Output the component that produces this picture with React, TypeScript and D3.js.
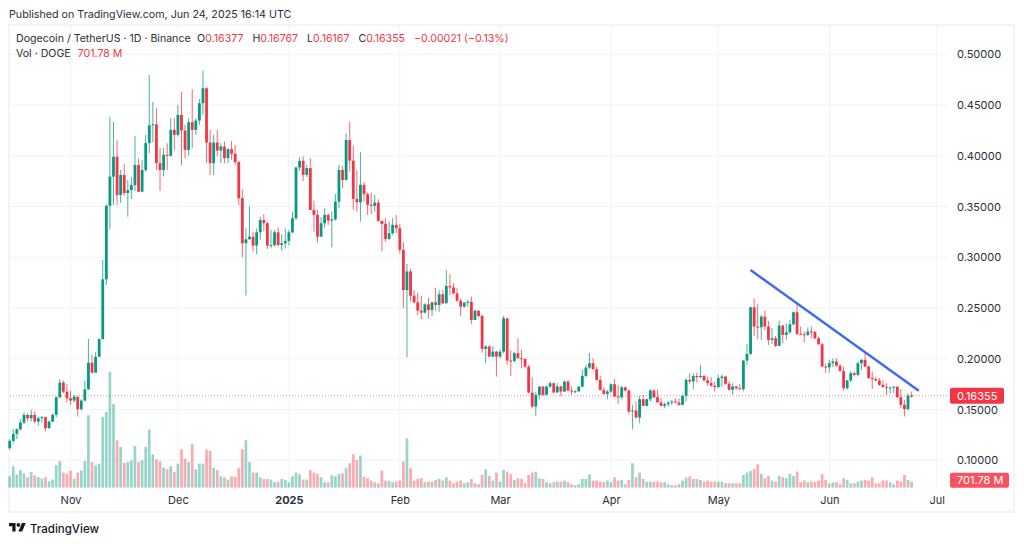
import { useEffect, useRef } from 'react';
import * as d3 from 'd3';

const WIDTH = 1024;
const HEIGHT = 544;

const startDate = Date.UTC(2024, 9, 15);
const firstOpen = 0.1119;

// one value per daily candle, Oct 15 2024 to Jun 24 2025
const closes = [
  .1191,.1260,.1306,.1371,.1447,.1414,.1447,.1381,.1414,.1424,
  .1316,.1381,.1447,.1621,.1765,.1676,.1611,.1588,.1627,.1503,
  .1588,.1699,.1961,.1863,.2020,.2194,.2782,.3507,.3794,.3990,
  .3613,.3810,.3633,.3662,.3711,.3908,.3645,.3860,.4125,.4300,
  .4310,.3928,.3859,.4009,.4000,.4255,.4206,.4402,.4248,.4058,
  .4330,.4255,.4347,.4517,.4665,.4130,.3927,.4130,.4051,.4091,
  .3976,.4065,.4019,.3937,.3581,.3138,.3177,.3203,.3115,.3246,
  .3367,.3335,.3115,.3120,.3246,.3121,.3138,.3161,.3246,.3384,
  .3884,.3950,.3812,.3878,.3466,.3417,.3203,.3335,.3417,.3361,
  .3374,.3548,.3860,.3762,.4155,.3952,.3575,.3542,.3713,.3621,
  .3516,.3506,.3539,.3358,.3329,.3181,.3237,.3319,.3286,.3073,
  .2677,.2860,.2621,.2556,.2474,.2454,.2536,.2480,.2556,.2530,
  .2635,.2546,.2717,.2703,.2644,.2572,.2513,.2553,.2560,.2382,
  .2474,.2421,.2097,.2120,.2021,.2070,.2021,.2070,.2398,.1982,
  .1978,.2054,.2005,.1998,.1923,.1667,.1529,.1644,.1726,.1644,
  .1726,.1759,.1667,.1727,.1677,.1775,.1687,.1677,.1680,.1726,
  .1831,.1913,.1956,.1897,.1792,.1693,.1654,.1677,.1749,.1628,
  .1621,.1719,.1687,.1480,.1490,.1421,.1601,.1536,.1601,.1687,
  .1621,.1570,.1536,.1552,.1568,.1578,.1569,.1546,.1635,.1792,
  .1776,.1831,.1819,.1831,.1786,.1760,.1733,.1720,.1809,.1825,
  .1753,.1694,.1727,.1710,.1700,.1982,.2048,.2507,.2317,.2310,
  .2415,.2317,.2186,.2202,.2127,.2327,.2235,.2261,.2340,.2458,
  .2245,.2240,.2235,.2268,.2265,.2202,.2143,.1923,.1915,.1957,
  .1973,.1930,.1880,.1710,.1786,.1858,.1841,.1956,.1989,.1923,
  .1809,.1800,.1786,.1743,.1720,.1710,.1717,.1725,.1622,.1546,
  .1504,.16377,.16355,
];

const highs = [
  .1207,.1306,.1316,.1404,.1473,.1463,.1496,.1480,.1430,.1437,
  .1430,.1391,.1463,.1627,.1801,.1785,.1752,.1686,.1644,.1611,
  .1601,.1785,.2194,.2037,.2067,.2200,.2973,.3520,.4384,.4335,
  .4155,.3860,.3918,.3760,.3790,.4194,.3975,.3960,.4204,.4795,
  .4529,.4467,.4076,.4076,.4124,.4370,.4370,.4501,.4632,.4304,
  .4370,.4655,.4370,.4557,.4839,.4675,.4255,.4206,.4255,.4124,
  .4140,.4075,.4147,.4107,.3947,.3669,.3285,.3499,.3253,.3285,
  .3400,.3423,.3351,.3270,.3270,.3295,.3226,.3285,.3270,.3449,
  .3894,.3986,.3992,.3910,.3976,.3558,.3466,.3394,.3480,.3433,
  .3449,.3623,.3910,.3900,.4221,.4336,.4100,.3860,.4034,.3739,
  .3637,.3637,.3614,.3572,.3362,.3385,.3352,.3385,.3417,.3329,
  .3148,.2935,.2886,.2677,.2651,.2618,.2546,.2602,.2562,.2700,
  .2677,.2677,.2874,.2831,.2743,.2694,.2595,.2556,.2579,.2612,
  .2487,.2474,.2438,.2136,.2136,.2126,.2077,.2093,.2421,.2398,
  .2087,.2070,.2202,.2087,.2005,.1939,.1818,.1677,.1732,.1732,
  .1736,.1775,.1765,.1759,.1736,.1785,.1792,.1726,.1690,.1726,
  .1890,.1939,.2054,.2005,.1923,.1831,.1719,.1693,.1759,.1801,
  .1742,.1732,.1726,.1700,.1546,.1578,.1634,.1644,.1611,.1700,
  .1700,.1700,.1611,.1568,.1585,.1595,.1611,.1611,.1645,.1809,
  .1858,.1858,.1864,.1940,.1841,.1825,.1818,.1776,.1841,.1841,
  .1825,.1776,.1759,.1733,.1753,.1989,.2146,.2514,.2596,.2537,
  .2432,.2474,.2373,.2301,.2225,.2376,.2333,.2350,.2383,.2465,
  .2540,.2317,.2268,.2310,.2317,.2274,.2219,.2160,.1950,.1990,
  .2003,.2005,.1950,.1924,.1792,.1881,.1874,.1973,.1996,.2061,
  .1937,.1874,.1818,.1809,.1786,.1760,.1727,.1727,.1727,.1700,
  .1595,.1660,.16767,
];

const lows = [
  .1102,.1168,.1207,.1293,.1358,.1381,.1381,.1365,.1339,.1371,
  .1286,.1309,.1375,.1424,.1611,.1660,.1568,.1545,.1568,.1430,
  .1490,.1578,.1693,.1857,.1916,.2018,.2188,.2726,.3276,.3514,
  .3514,.3534,.3604,.3399,.3575,.3650,.3640,.3690,.3840,.4024,
  .4130,.3859,.3652,.3796,.3861,.3992,.4058,.4189,.3909,.3976,
  .3999,.4074,.4206,.4304,.4402,.3927,.3812,.3810,.3992,.3927,
  .3927,.3927,.3960,.3910,.3515,.2999,.2623,.3171,.3056,.3030,
  .3170,.3259,.3082,.3089,.3105,.3105,.3066,.3089,.3115,.3236,
  .3367,.3850,.3751,.3790,.3466,.3253,.3144,.3203,.3292,.3318,
  .3098,.3361,.3482,.3680,.3755,.3844,.3467,.3450,.3352,.3549,
  .3417,.3427,.3450,.3351,.3057,.3155,.3171,.3221,.3237,.3040,
  .2497,.2015,.2562,.2546,.2430,.2389,.2447,.2398,.2421,.2474,
  .2464,.2539,.2605,.2628,.2638,.2562,.2421,.2503,.2513,.2343,
  .2382,.2408,.2060,.1956,.2015,.2015,.1824,.2005,.2054,.1939,
  .1831,.1962,.2005,.1906,.1906,.1660,.1513,.1437,.1601,.1630,
  .1640,.1710,.1667,.1670,.1628,.1670,.1677,.1644,.1660,.1670,
  .1716,.1818,.1900,.1890,.1785,.1687,.1644,.1601,.1660,.1621,
  .1555,.1601,.1677,.1457,.1306,.1414,.1365,.1529,.1529,.1578,
  .1611,.1568,.1529,.1513,.1529,.1545,.1562,.1536,.1546,.1579,
  .1753,.1700,.1766,.1809,.1776,.1733,.1726,.1677,.1713,.1727,
  .1743,.1687,.1645,.1694,.1690,.1680,.1940,.2040,.2225,.2192,
  .2186,.2284,.2137,.2146,.2114,.2137,.2153,.2186,.2245,.2327,
  .2235,.2235,.2160,.2225,.2202,.2192,.2137,.1917,.1858,.1864,
  .1917,.1923,.1874,.1687,.1694,.1769,.1832,.1825,.1891,.1917,
  .1802,.1700,.1776,.1733,.1717,.1645,.1655,.1661,.1612,.1513,
  .1431,.1490,.16167,
];

// DOGE volume, millions
const volumes = [
  1360,2560,1560,2080,1680,1240,1880,1480,1240,1080,
  1240,760,960,2680,3200,1800,1680,2000,1040,1800,
  2080,3200,8680,3080,2680,2880,8480,9080,13880,10040,
  5680,4880,2960,3080,3280,5000,3080,3280,4880,6960,
  4000,3400,3160,2400,2200,2560,1880,2880,4600,3480,
  3080,5200,2200,2880,2880,4560,4400,2400,2080,1360,
  1240,960,1360,1280,2360,4600,5680,3080,1800,1800,
  1240,1040,1040,960,640,720,1040,920,640,1360,
  1800,1600,960,960,2080,1800,1640,1240,640,640,
  1480,1360,1640,1720,2320,2920,4000,3320,3840,1320,
  1120,840,640,520,2040,840,840,640,720,840,
  3120,5920,2320,840,1040,1120,640,720,720,920,
  1040,840,1240,840,520,720,840,520,640,1040,
  520,400,1520,2200,1400,840,1800,720,2120,1920,
  1600,920,1120,1040,520,1520,1800,1920,1120,1040,
  640,520,640,720,720,840,640,400,280,400,
  1040,1040,1600,840,840,720,640,840,640,1240,
  840,920,400,920,2920,1240,1800,1040,720,720,
  720,720,640,640,400,280,280,400,840,1200,
  1360,1040,1040,920,720,840,720,720,720,720,
  520,520,520,520,520,1520,1800,2000,2240,2800,
  1640,1120,1400,840,720,1400,1240,1120,1640,1400,
  1920,640,840,640,720,640,840,1600,920,520,
  640,640,400,1120,920,520,520,720,840,920,
  840,1240,520,520,840,840,640,400,840,720,
  1520,920,701.78,
];

const priceTicks = [0.1, 0.15, 0.2, 0.25, 0.3, 0.35, 0.4, 0.45, 0.5];
const timeTicks = [
  Date.UTC(2024, 10, 1), Date.UTC(2024, 11, 1), Date.UTC(2025, 0, 1), Date.UTC(2025, 1, 1),
  Date.UTC(2025, 2, 1), Date.UTC(2025, 3, 1), Date.UTC(2025, 4, 1), Date.UTC(2025, 5, 1), Date.UTC(2025, 6, 1),
];
const timeLabels = ['Nov', 'Dec', '2025', 'Feb', 'Mar', 'Apr', 'May', 'Jun', 'Jul'];

// hand drawn trendline
const trendDates = [Date.UTC(2025, 4, 10), Date.UTC(2025, 5, 26)];
const trendPrices = [0.2874, 0.1685];

const lastPrice = 0.16355;
const DAY = 86400000;
const FONT = 'Inter, "Noto Sans", sans-serif';
const GREEN = '#089981';
const RED = '#f23645';
const GRID = '#f2f3f5';
const TEXT = '#2a2e39';

const App = () => {
  const svgRef = useRef(null);

  useEffect(() => {
    const svg = d3.select(svgRef.current);
    svg.selectAll('*').remove();
    svg.attr('font-family', FONT);

    const x = d3.scaleUtc()
      .domain([startDate, startDate + 252 * DAY])
      .range([9.7, 911.6]);
    const y = d3.scaleLinear().domain([0.1, 0.5]).range([460.25, 54.25]);
    const yVol = d3.scaleLinear().domain([0, 13880]).range([487.6, 371.9]);

    const opens = closes.map((c, i) => (i === 0 ? firstOpen : closes[i - 1]));
    const dates = closes.map((c, i) => startDate + i * DAY);
    const up = (i: number) => closes[i] >= opens[i];

    // frame
    svg.append('rect').attr('x', 0).attr('y', 0).attr('width', WIDTH).attr('height', HEIGHT).attr('fill', '#fff');
    svg.append('rect').attr('x', 9).attr('y', 25).attr('width', 1005).attr('height', 487)
      .attr('fill', 'none').attr('stroke', '#f3f4f6').attr('stroke-width', 2);

    // grid
    svg.append('g').selectAll('line').data(priceTicks).enter().append('line')
      .attr('x1', 10).attr('x2', 948)
      .attr('y1', d => y(d)).attr('y2', d => y(d))
      .attr('stroke', GRID);
    svg.append('g').selectAll('line').data(timeTicks).enter().append('line')
      .attr('x1', d => x(d)).attr('x2', d => x(d))
      .attr('y1', 26).attr('y2', 488)
      .attr('stroke', GRID);

    // volume
    svg.append('g').selectAll('rect').data(volumes).enter().append('rect')
      .attr('x', (d, i) => x(dates[i]) - 1.35)
      .attr('width', 2.7)
      .attr('y', d => yVol(d))
      .attr('height', d => yVol(0) - yVol(d))
      .attr('fill', (d, i) => (up(i) ? GREEN : RED))
      .attr('fill-opacity', 0.42);

    // last price line
    svg.append('line')
      .attr('x1', 10).attr('x2', 948)
      .attr('y1', y(lastPrice)).attr('y2', y(lastPrice))
      .attr('stroke', RED).attr('stroke-opacity', 0.6).attr('stroke-dasharray', '1 2');

    // candles
    const candles = svg.append('g');
    candles.selectAll('line').data(closes).enter().append('line')
      .attr('x1', (d, i) => x(dates[i])).attr('x2', (d, i) => x(dates[i]))
      .attr('y1', (d, i) => y(highs[i])).attr('y2', (d, i) => y(lows[i]))
      .attr('stroke', (d, i) => (up(i) ? GREEN : RED))
      .attr('stroke-opacity', 0.75)
      .attr('stroke-width', 1);
    candles.selectAll('rect').data(closes).enter().append('rect')
      .attr('x', (d, i) => x(dates[i]) - 1.4)
      .attr('width', 2.8)
      .attr('y', (d, i) => y(Math.max(opens[i], closes[i])))
      .attr('height', (d, i) => Math.max(1, Math.abs(y(opens[i]) - y(closes[i]))))
      .attr('fill', (d, i) => (up(i) ? GREEN : RED));

    // trendline
    const trend = d3.line<number>()
      .x((d, i) => x(trendDates[i]))
      .y(d => y(d));
    svg.append('path')
      .attr('d', trend(trendPrices))
      .attr('fill', 'none').attr('stroke', '#3d6bf0').attr('stroke-width', 2.4);

    // axes
    const priceAxis = svg.append('g')
      .attr('transform', 'translate(948,0)')
      .call(d3.axisRight(y).tickValues(priceTicks).tickFormat(d3.format('.5f')).tickSize(0).tickPadding(9));
    priceAxis.select('.domain').remove();
    priceAxis.selectAll('text').attr('font-family', FONT).attr('font-size', 11).attr('fill', TEXT);

    const timeAxis = svg.append('g')
      .attr('transform', 'translate(0,488)')
      .call(d3.axisBottom(x).tickValues(timeTicks).tickFormat((d, i) => timeLabels[i]).tickSize(0).tickPadding(8));
    timeAxis.select('.domain').remove();
    timeAxis.selectAll('text')
      .attr('font-family', FONT).attr('font-size', 11).attr('fill', TEXT)
      .attr('font-weight', (d, i) => (timeLabels[i] === '2025' ? 700 : 400));

    // price and volume badges
    svg.append('rect').attr('x', 950).attr('y', y(lastPrice) - 8).attr('width', 54).attr('height', 16)
      .attr('rx', 2).attr('fill', RED);
    svg.append('text').attr('x', 957).attr('y', y(lastPrice) + 4)
      .attr('font-size', 11).attr('fill', '#fff').text('0.16355');
    svg.append('rect').attr('x', 950).attr('y', yVol(701.78) - 9).attr('width', 59).attr('height', 15)
      .attr('rx', 2).attr('fill', '#f7525f');
    svg.append('text').attr('x', 957).attr('y', yVol(701.78) + 2)
      .attr('font-size', 11).attr('fill', '#fff').text('701.78 M');

    // header
    svg.append('text').attr('x', 9).attr('y', 18).attr('font-size', 10.7).attr('fill', TEXT)
      .text('Published on TradingView.com, Jun 24, 2025 16:14 UTC');

    const legend = svg.append('text').attr('x', 16).attr('y', 42).attr('font-size', 10.6).attr('fill', TEXT);
    legend.append('tspan').text('Dogecoin / TetherUS · 1D · Binance');
    const ohlc = [['O', '0.16377'], ['H', '0.16767'], ['L', '0.16167'], ['C', '0.16355']];
    ohlc.forEach((d, i) => {
      legend.append('tspan').attr('dx', i === 0 ? 6.5 : 9).text(d[0]);
      legend.append('tspan').attr('fill', RED).text(d[1]);
    });
    legend.append('tspan').attr('dx', 9).attr('fill', RED).text('−0.00021 (−0.13%)');

    const volLegend = svg.append('text').attr('x', 16).attr('y', 57).attr('font-size', 10.6).attr('fill', TEXT);
    volLegend.append('tspan').text('Vol · DOGE');
    volLegend.append('tspan').attr('dx', 7).attr('fill', RED).text('701.78 M');

    // logo
    const logo = svg.append('g').attr('transform', 'translate(9,521.2) scale(0.47)').attr('fill', '#131722');
    logo.append('path').attr('d', 'M14 22H7V11H0V4h14v18zM28 22h-8l7.5-18h8L28 22z');
    logo.append('circle').attr('cx', 20).attr('cy', 8).attr('r', 4);
    svg.append('text').attr('x', 30).attr('y', 533).attr('font-size', 11.5).attr('font-weight', 500)
      .attr('fill', '#131722').text('TradingView');
  }, []);

  return (
    <svg ref={svgRef} width={WIDTH} height={HEIGHT} style={{ position: 'absolute', left: 0, top: 0 }}></svg>
  );
};

export default App;
